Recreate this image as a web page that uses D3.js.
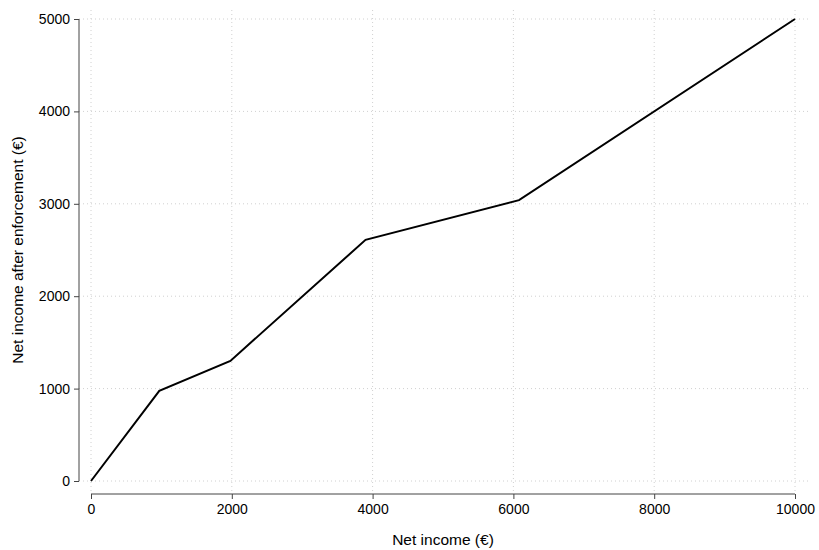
<!DOCTYPE html>
<html>
<head>
<meta charset="utf-8">
<script src="https://cdnjs.cloudflare.com/ajax/libs/d3/7.8.5/d3.min.js"></script>
<style>
  body { margin: 0; background: #fff; }
  text { font-family: "Liberation Sans", Arial, sans-serif; }
</style>
</head>
<body>
<script>
var incomeX = [0, 970, 1980, 3900, 6080, 10000];
var incomeY = [0, 975, 1300, 2610, 3040, 5000];
var xTicks = [0, 2000, 4000, 6000, 8000, 10000];
var yTicks = [0, 1000, 2000, 3000, 4000, 5000];

var width = 819, height = 550;
var svg = d3.select("body").append("svg")
  .attr("width", width).attr("height", height);

var x = d3.scaleLinear().domain([0, 10000]).range([91, 795]);
var y = d3.scaleLinear().domain([0, 5000]).range([481, 19]);

// grid
svg.selectAll("line.gx").data(xTicks).enter().append("line")
  .attr("x1", d => x(d)).attr("x2", d => x(d))
  .attr("y1", 10).attr("y2", 494)
  .attr("stroke", "#d0d0d0").attr("stroke-dasharray", "1,3");
svg.selectAll("line.gy").data(yTicks).enter().append("line")
  .attr("x1", 79).attr("x2", 808)
  .attr("y1", d => y(d)).attr("y2", d => y(d))
  .attr("stroke", "#d0d0d0").attr("stroke-dasharray", "1,3");

// axes
var xAxis = svg.append("g").attr("transform", "translate(0,494)")
  .call(d3.axisBottom(x).tickValues(xTicks).tickSize(5).tickPadding(5).tickFormat(d3.format("d")));
var yAxis = svg.append("g").attr("transform", "translate(79,0)")
  .call(d3.axisLeft(y).tickValues(yTicks).tickSize(5).tickPadding(4).tickFormat(d3.format("d")));
[xAxis, yAxis].forEach(function(a) {
  a.select(".domain").remove();
  a.selectAll("line").attr("stroke", "#444");
  a.selectAll("text").attr("font-size", 14).attr("fill", "#000")
    .style("font-family", "'Liberation Sans', Arial, sans-serif");
});
svg.append("line").attr("x1", 91).attr("x2", 795).attr("y1", 494).attr("y2", 494).attr("stroke", "#444");
svg.append("line").attr("x1", 79).attr("x2", 79).attr("y1", 19).attr("y2", 481).attr("stroke", "#444");

// line
var pts = incomeX.map((v, i) => [v, incomeY[i]]);
svg.append("path").datum(pts)
  .attr("d", d3.line().x(d => x(d[0])).y(d => y(d[1])))
  .attr("fill", "none").attr("stroke", "#000").attr("stroke-width", 2);

// labels
svg.append("text").attr("x", x(5000)).attr("y", 545).attr("text-anchor", "middle")
  .attr("font-size", 15.5).text("Net income (€)");
svg.append("text").attr("transform", "translate(23," + y(2500) + ") rotate(-90)")
  .attr("text-anchor", "middle").attr("font-size", 15.5)
  .text("Net income after enforcement (€)");
</script>
</body>
</html>
